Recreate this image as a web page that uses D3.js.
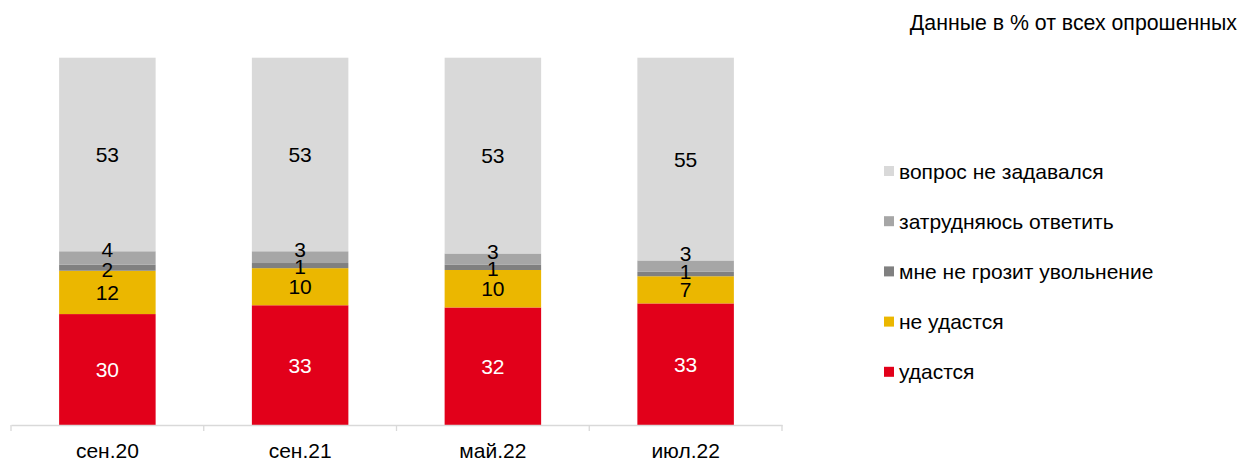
<!DOCTYPE html>
<html><head><meta charset="utf-8">
<script src="https://cdn.jsdelivr.net/npm/d3@7"></script>
<style>body{margin:0;background:#fff}svg{display:block;font-family:Arial,"Liberation Sans",sans-serif}</style>
</head><body><svg id="c" width="1244" height="462"></svg>
<script>
const categories = ["сен.20", "сен.21", "май.22", "июл.22"];
const seriesNames = ["удастся", "не удастся", "мне не грозит увольнение", "затрудняюсь ответить", "вопрос не задавался"];
const udastsya = [30.2, 32.6, 32.0, 33.1];
const neUdastsya = [11.8, 10.1, 10.2, 7.4];
const neGrozit = [1.7, 1.4, 1.4, 1.2];
const zatrudnyayus = [3.6, 3.2, 3.1, 3.1];
const neZadavalsya = [52.7, 52.7, 53.3, 55.2];
const labels = [
  ["30", "33", "32", "33"],
  ["12", "10", "10", "7"],
  ["2", "1", "1", "1"],
  ["4", "3", "3", "3"],
  ["53", "53", "53", "55"]
];
const colors = ["#e2001a", "#ebb700", "#808080", "#a6a6a6", "#d9d9d9"];
const labelColors = ["#fff", "#000", "#000", "#000", "#000"];
const title = "Данные в % от всех опрошенных";

// label nudges in px (layout only), as placed in the original
const labelNudge = [
  [0, 0, 0, 0],
  [0, 0, 0, 0],
  [1.5, 0.5, 1.5, -3],
  [-8, -8, -7.5, -13],
  [0, 0, 0, 0]
];

const seriesVals = [udastsya, neUdastsya, neGrozit, zatrudnyayus, neZadavalsya];
const rows = categories.map((c, i) => {
  const r = {cat: c};
  seriesNames.forEach((s, k) => r[s] = seriesVals[k][i]);
  return r;
});
const stack = d3.stack().keys(seriesNames)(rows);

const svg = d3.select("#c");
const x = d3.scaleBand().domain(categories).range([11, 782]).paddingInner(0).paddingOuter(0);
const y = d3.scaleLinear().domain([0, 100]).range([425, 57.7]);
const bw = 96.5;
const fs = 21;

const g = svg.append("g");
stack.forEach((layer, k) => {
  g.selectAll(null).data(layer).enter().append("rect")
    .attr("x", d => x(d.data.cat) + x.bandwidth() / 2 - bw / 2)
    .attr("width", bw)
    .attr("y", d => y(d[1]))
    .attr("height", d => y(d[0]) - y(d[1]))
    .attr("fill", colors[k]);
});
stack.forEach((layer, k) => {
  g.selectAll(null).data(layer).enter().append("text")
    .attr("x", d => x(d.data.cat) + x.bandwidth() / 2)
    .attr("y", (d, i) => (y(d[0]) + y(d[1])) / 2 + labelNudge[k][i])
    .attr("dy", "0.36em")
    .attr("text-anchor", "middle")
    .attr("font-size", fs)
    .attr("fill", labelColors[k])
    .text((d, i) => labels[k][i]);
});

// axis
const axis = svg.append("g").attr("transform", "translate(0,425)")
  .call(d3.axisBottom(x).tickSize(0).tickPadding(18));
axis.select(".domain").attr("stroke", "#d9d9d9").attr("stroke-width", 1.3);
axis.selectAll("text").attr("font-size", fs).attr("fill", "#000").attr("font-family", "Arial,'Liberation Sans',sans-serif");
const tickPos = categories.map(c => x(c)).concat([x.range()[1]]);
axis.selectAll(null).data(tickPos).enter().append("line")
  .attr("x1", d => d).attr("x2", d => d).attr("y1", 0).attr("y2", 6)
  .attr("stroke", "#d9d9d9").attr("stroke-width", 1.3);

// legend
const legendOrder = seriesNames.map((s, k) => k).reverse();
const lg = svg.append("g");
legendOrder.forEach((k, j) => {
  const cy = 171 + j * 50.2;
  lg.append("rect").attr("x", 884).attr("y", cy - 5).attr("width", 10).attr("height", 10).attr("fill", colors[k]);
  lg.append("text").attr("x", 899).attr("y", cy).attr("dy", "0.36em").attr("font-size", fs).attr("fill", "#000").text(seriesNames[k]);
});

svg.append("text").attr("x", 1237).attr("y", 22).attr("dy", "0.36em").attr("text-anchor", "end")
  .attr("font-size", 21.3).attr("fill", "#000").text(title);
</script></body></html>
